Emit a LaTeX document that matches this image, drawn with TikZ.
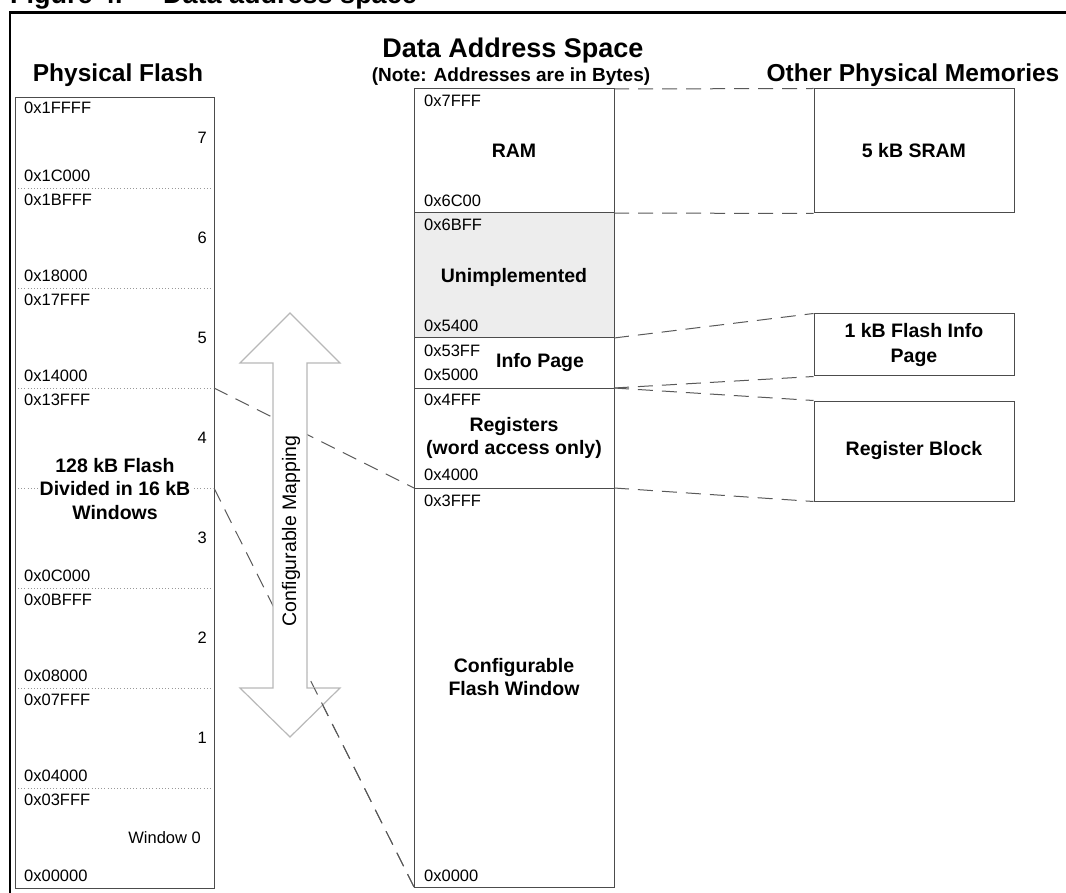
\documentclass[tikz,border=0pt]{standalone}
\usepackage{fontspec}
\setmainfont{Liberation Sans}
\begin{document}
\begin{tikzpicture}[x=1pt,y=-1pt,
  hex/.style={anchor=west,inner sep=0pt,font=\fontsize{16.5}{16.5}\selectfont},
  num/.style={anchor=east,inner sep=0pt,font=\fontsize{16.5}{16.5}\selectfont},
  lbl/.style={align=center,inner sep=1pt,font=\bfseries\fontsize{19.5}{23.5}\selectfont},
  head/.style={anchor=base,inner sep=0pt,font=\bfseries\fontsize{24.5}{28}\selectfont},
  membox/.style={draw=black!70,line width=1pt,minimum width=200pt,align=center,
    font=\bfseries\fontsize{19.5}{25}\selectfont,inner sep=0pt},
  outline/.style={draw=black!70,line width=1pt},
  sep/.style={draw=black!40,line width=0.8pt,dash pattern=on 1pt off 2.2pt},
  map/.style={draw=black!65,line width=1pt,dash pattern=on 15pt off 9pt},
  frame/.style={draw=black,line width=2.6pt},
  bigarrow/.style={draw=black!28,line width=1.2pt,fill=white,line join=miter}]
\useasboundingbox (0,0) rectangle (1066,893);
\clip (0,0) rectangle (1066,893);

% caption strip and figure frame
\node[anchor=base west,inner sep=0pt,font=\bfseries\fontsize{27}{30}\selectfont] (fignum) at (10,4) {Figure 4.};
\node[anchor=base west,inner sep=0pt,font=\bfseries\fontsize{27}{30}\selectfont] (figtitle) at (163,4) {Data address space};
\draw[frame] (1070,12.5) -- (10,12.5) -- (10,900);

% column headings
\node[head] (hflash) at (118,82) {Physical Flash};
\node[head,font=\bfseries\fontsize{27}{30}\selectfont] (hdata) at (513,58) {Data Address Space};
\node[anchor=base,inner sep=0pt,font=\bfseries\fontsize{19}{22}\selectfont] (hnote) at (511,82) {(Note: Addresses are in Bytes)};
\node[head] (hother) at (913,82) {Other Physical Memories};

% ---------------- physical flash ----------------
\coordinate (fTL) at (15,98);
\coordinate (fBR) at (214,888);
\foreach \k/\yy in {0/188,1/288,2/388,3/488,4/588,5/688,6/788}
  \draw[sep] (18,\yy) -- (211,\yy);
\draw[outline] (fTL) rectangle (fBR);
\coordinate (f14000) at (214,388);
\coordinate (f10000) at (214,488);

\node[hex] (fa) at (24,108) {0x1FFFF};
\node[hex] (fb) at (24,176) {0x1C000};
\node[hex] (fc) at (24,200) {0x1BFFF};
\node[hex] (fd) at (24,276) {0x18000};
\node[hex] (fe) at (24,300) {0x17FFF};
\node[hex] (ff) at (24,376) {0x14000};
\node[hex] (fg) at (24,400) {0x13FFF};
\node[hex] (fh) at (24,576) {0x0C000};
\node[hex] (fi) at (24,600) {0x0BFFF};
\node[hex] (fj) at (24,676) {0x08000};
\node[hex] (fk) at (24,700) {0x07FFF};
\node[hex] (fl) at (24,776) {0x04000};
\node[hex] (fm) at (24,800) {0x03FFF};
\node[hex] (fn) at (24,876) {0x00000};

\node[num] (w7) at (207,138) {7};
\node[num] (w6) at (207,238) {6};
\node[num] (w5) at (207,338) {5};
\node[num] (w4) at (207,438) {4};
\node[num] (w3) at (207,538) {3};
\node[num] (w2) at (207,638) {2};
\node[num] (w1) at (207,738) {1};
\node[num] (w0) at (201,838) {Window 0};
\node[lbl,fill=white,inner xsep=2pt,inner ysep=0pt] (fdesc) at (115,489) {128 kB Flash\\Divided in 16 kB\\Windows};

% ---------------- data address space ----------------
\fill[black!7] (414,213) rectangle (614,338);
\draw[outline] (414,89) rectangle (614,887);
\foreach \yy in {213,338,388,488}
  \draw[outline] (414,\yy) -- (614,\yy);
\coordinate (dTop) at (614,89);
\coordinate (d6C00) at (614,213);
\coordinate (d5400) at (614,338);
\coordinate (d5000) at (614,388);
\coordinate (d4000) at (614,488);
\coordinate (dL4000) at (414,488);
\coordinate (dBot) at (414,887);

\node[hex] (da) at (424,101) {0x7FFF};
\node[hex] (db) at (424,201) {0x6C00};
\node[hex] (dc) at (424,225) {0x6BFF};
\node[hex] (dd) at (424,326) {0x5400};
\node[hex] (de) at (424,351) {0x53FF};
\node[hex] (df) at (424,375) {0x5000};
\node[hex] (dg) at (424,400) {0x4FFF};
\node[hex] (dh) at (424,475) {0x4000};
\node[hex] (di) at (424,501) {0x3FFF};
\node[hex] (dj) at (424,876) {0x0000};

\node[lbl] (ram) at (514,151) {RAM};
\node[lbl] (unimpl) at (514,277) {Unimplemented};
\node[lbl] (info) at (540,363) {Info Page};
\node[lbl] (regs) at (514,438) {Registers\\(word access only)};
\node[lbl] (cfw) at (514,677) {Configurable\\Flash Window};

% ---------------- other physical memories ----------------
\node[membox,minimum height=124pt] (sram) at (914,151) {5 kB SRAM};
\node[membox,minimum height=62pt] (finfo) at (914,345) {1 kB Flash Info\\Page};
\node[membox,minimum height=100pt] (regblk) at (914,451) {Register Block};

% ---------------- mapping lines ----------------
\draw[map] (dTop) -- (sram.north west);
\draw[map] (d6C00) -- (sram.south west);
\draw[map] (d5400) -- (finfo.north west);
\draw[map] (d5000) -- (finfo.south west);
\draw[map] (d5000) -- (regblk.north west);
\draw[map] (d4000) -- (regblk.south west);
\draw[map] (f14000) -- (dL4000);
\draw[map] (f10000) -- (dBot);

% configurable mapping double arrow
\draw[bigarrow] (290,313) -- (340,363) -- (307,363) -- (307,688) -- (340,688)
  -- (290,737) -- (240,688) -- (273,688) -- (273,363) -- (240,363) -- cycle;
\node[rotate=90,inner sep=0pt,font=\fontsize{19.5}{20}\selectfont] (cmap) at (291,531) {Configurable Mapping};
\begin{scope}
  \clip (200,688) rectangle (420,893);
  \draw[map] (f10000) -- (dBot);
\end{scope}
\end{tikzpicture}
\end{document}
